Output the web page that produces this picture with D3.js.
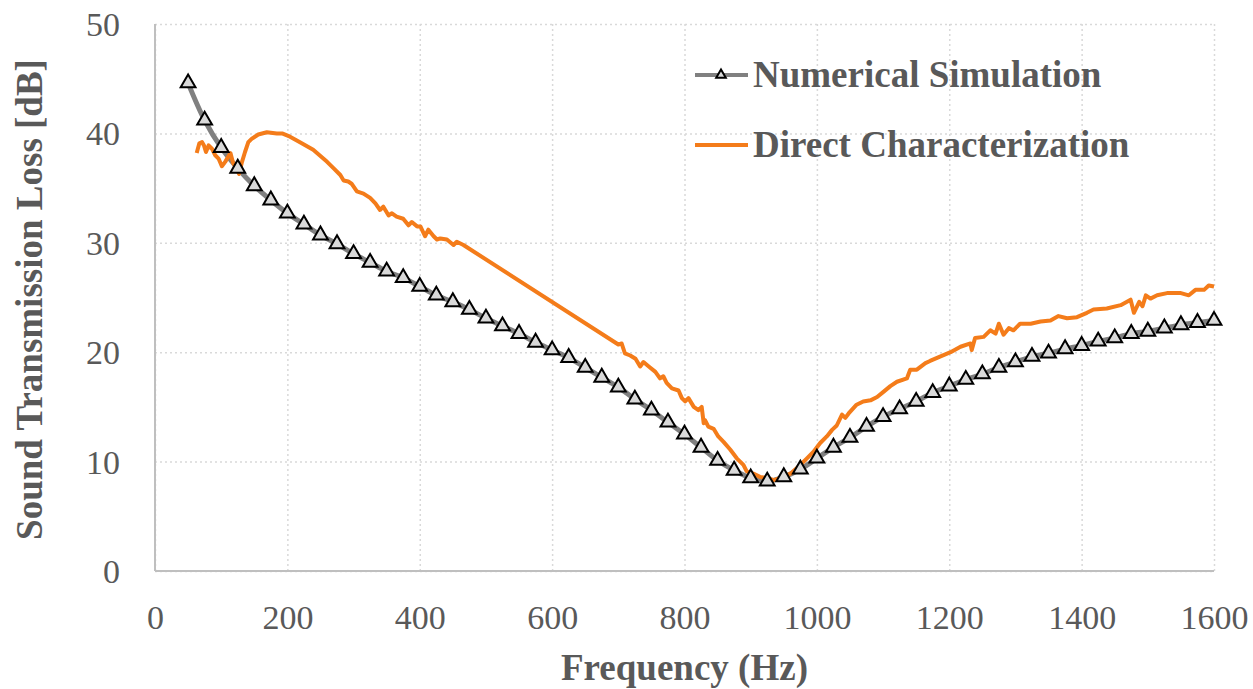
<!DOCTYPE html>
<html>
<head>
<meta charset="utf-8">
<script src="https://cdn.jsdelivr.net/npm/d3@7"></script>
<style>
  body { margin: 0; background: #fff; }
  svg text { font-family: "Liberation Serif", "Times New Roman", serif; fill: #595959; }
  .grid line { stroke: #d9d9d9; stroke-width: 1.5; stroke-dasharray: 2,3; }
  .axis-label { font-size: 34px; }
  .axis-title, .legend-label { font-size: 37px; font-weight: bold; }
</style>
</head>
<body>
<div id="chart"></div>
<script>
// x ticks and y ticks
const xTicks = [0, 200, 400, 600, 800, 1000, 1200, 1400, 1600];
const yTicks = [0, 10, 20, 30, 40, 50];

// Numerical Simulation, read every 25 Hz from 50 Hz
const simFreq = [50, 75, 100, 125, 150, 175, 200, 225, 250, 275, 300, 325, 350, 375, 400,
    425, 450, 475, 500, 525, 550, 575, 600, 625, 650, 675, 700, 725, 750, 775, 800,
    825, 850, 875, 900, 925, 950, 975, 1000, 1025, 1050, 1075, 1100, 1125, 1150, 1175, 1200,
    1225, 1250, 1275, 1300, 1325, 1350, 1375, 1400, 1425, 1450, 1475, 1500, 1525, 1550, 1575, 1600];
const simLoss = [44.6, 41.2, 38.7, 36.8, 35.2, 33.9, 32.7, 31.7, 30.7, 29.9, 29.0, 28.2, 27.4, 26.8, 26.0,
    25.2, 24.6, 23.9, 23.1, 22.4, 21.7, 20.9, 20.2, 19.5, 18.6, 17.7, 16.8, 15.7, 14.7, 13.6, 12.5,
    11.3, 10.1, 9.2, 8.5, 8.2, 8.6, 9.3, 10.3, 11.3, 12.2, 13.2, 14.1, 14.8, 15.5, 16.3, 16.9,
    17.5, 18.0, 18.6, 19.1, 19.6, 19.9, 20.3, 20.6, 21.0, 21.3, 21.7, 21.9, 22.2, 22.5, 22.7, 22.9];

// Direct Characterization (measured), frequency / loss pairs
const dirFreq = [63, 67, 71, 74, 77, 81, 86, 91, 96, 101, 106, 111, 114, 118, 123, 127, 131, 136, 141, 146,
    156, 169, 184, 192, 204, 219, 239, 260, 270, 280, 285, 292, 297, 305, 315, 325, 333, 340, 345, 353,
    358, 365, 375, 383, 388, 396, 401, 408, 413, 421, 426, 431, 441, 451, 456, 466,
    700, 705, 710, 718, 726, 733, 738, 746, 756, 763, 768, 773, 781, 791, 796, 801, 806, 814, 821, 826,
    829, 831, 836, 844, 851, 859, 869, 879, 889, 894, 904, 914, 925, 935, 945, 960, 975, 985, 995, 1005,
    1015, 1023, 1030, 1038, 1043, 1048, 1060, 1070, 1081, 1091, 1101, 1111, 1121, 1136, 1141, 1151, 1164, 1171,
    1186, 1202, 1217, 1232, 1234, 1239, 1252, 1262, 1270, 1275, 1282, 1290, 1297, 1307, 1323, 1338, 1353,
    1365, 1378, 1393, 1408, 1418, 1438, 1459, 1474, 1479, 1487, 1492, 1497, 1504, 1514, 1529, 1550, 1562,
    1572, 1585, 1592, 1600];
const dirLoss = [38.2, 39.1, 39.2, 38.9, 38.3, 38.9, 38.6, 38.0, 37.7, 37.0, 37.4, 37.9, 38.2, 37.3, 36.8, 36.3, 37.3, 38.3, 39.2, 39.5,
    39.9, 40.1, 40.0, 40.0, 39.7, 39.2, 38.5, 37.4, 36.8, 36.2, 35.7, 35.6, 35.4, 34.7, 34.5, 34.1, 33.6, 33.0, 33.3, 32.5,
    32.7, 32.4, 32.2, 31.6, 31.9, 31.5, 31.5, 30.6, 31.2, 30.6, 30.3, 30.4, 30.3, 29.8, 30.1, 29.8,
    20.7, 20.8, 19.9, 19.7, 19.4, 18.7, 19.1, 18.7, 18.2, 17.6, 17.8, 17.2, 16.7, 16.5, 15.8, 15.5, 15.8, 15.0, 14.7, 15.0,
    13.5, 13.8, 13.2, 13.0, 12.3, 11.8, 11.1, 10.3, 9.7, 9.1, 8.9, 8.6, 8.5, 8.3, 8.5, 8.9, 9.7, 10.3, 10.9, 11.7,
    12.3, 12.9, 13.3, 14.3, 14.0, 14.4, 15.2, 15.5, 15.6, 15.9, 16.4, 16.9, 17.3, 17.6, 18.4, 18.4, 19.0, 19.2,
    19.6, 20.0, 20.5, 20.8, 20.2, 21.3, 21.4, 22.0, 21.7, 22.6, 21.6, 22.2, 22.0, 22.6, 22.6, 22.8, 22.9,
    23.3, 23.1, 23.2, 23.6, 23.9, 24.0, 24.3, 24.8, 23.6, 24.6, 24.2, 25.2, 24.9, 25.2, 25.4, 25.4, 25.2,
    25.7, 25.7, 26.1, 26.0];

const seriesNames = ['Numerical Simulation', 'Direct Characterization'];

const config = {
    width: 1253,
    height: 689,
    margin: {top: 24, right: 39, bottom: 118, left: 155},
    grey: '#808080',
    orange: '#f47c1a',
    markerFill: '#d9d9d9'
};

const svg = d3.select('#chart').append('svg')
    .attr('width', config.width)
    .attr('height', config.height);

const innerW = config.width - config.margin.left - config.margin.right;
const innerH = config.height - config.margin.top - config.margin.bottom;

const g = svg.append('g')
    .attr('transform', `translate(${config.margin.left},${config.margin.top})`);

const xScale = d3.scaleLinear().domain([0, 1600]).range([0, innerW]);
const yScale = d3.scaleLinear().domain([0, 50]).range([innerH, 0]);

// dotted gridlines
g.append('g')
    .attr('class', 'grid')
    .attr('transform', `translate(0,${innerH})`)
    .call(d3.axisBottom(xScale).tickValues(xTicks).tickSize(-innerH).tickFormat(''))
    .call(g => g.select('.domain').remove());

g.append('g')
    .attr('class', 'grid')
    .call(d3.axisLeft(yScale).tickValues(yTicks).tickSize(-innerW).tickFormat(''))
    .call(g => g.select('.domain').remove());

// axis lines
g.append('line')
    .attr('x1', 0).attr('x2', 0).attr('y1', 0).attr('y2', innerH)
    .attr('stroke', '#bfbfbf').attr('stroke-width', 2);
g.append('line')
    .attr('x1', 0).attr('x2', innerW).attr('y1', innerH).attr('y2', innerH)
    .attr('stroke', '#bfbfbf').attr('stroke-width', 2);

// tick labels
const xAxisG = g.append('g')
    .attr('transform', `translate(0,${innerH})`)
    .call(d3.axisBottom(xScale).tickValues(xTicks).tickSize(0).tickPadding(34).tickFormat(d3.format('d')));
xAxisG.select('.domain').remove();
xAxisG.selectAll('text').attr('class', 'axis-label').attr('font-family', null).attr('font-size', null);

const yAxisG = g.append('g')
    .call(d3.axisLeft(yScale).tickValues(yTicks).tickSize(0).tickPadding(35).tickFormat(d3.format('d')));
yAxisG.select('.domain').remove();
yAxisG.selectAll('text').attr('class', 'axis-label').attr('font-family', null).attr('font-size', null)
    .attr('dy', '0.34em');

// axis titles
svg.append('text')
    .attr('class', 'axis-title')
    .attr('text-anchor', 'middle')
    .attr('x', config.margin.left + innerW / 2)
    .attr('y', 680)
    .text('Frequency (Hz)');

svg.append('text')
    .attr('class', 'axis-title')
    .attr('text-anchor', 'middle')
    .attr('transform', `translate(42,${config.margin.top + innerH / 2 + 2}) rotate(-90)`)
    .text('Sound Transmission Loss [dB]');

// series
const simData = simFreq.map((f, i) => ({f: f, v: simLoss[i]}));
const dirData = dirFreq.map((f, i) => ({f: f, v: dirLoss[i]}));

const smoothLine = d3.line()
    .x(d => xScale(d.f))
    .y(d => yScale(d.v))
    .curve(d3.curveCatmullRom);

const rawLine = d3.line()
    .x(d => xScale(d.f))
    .y(d => yScale(d.v));

g.append('path')
    .datum(simData)
    .attr('fill', 'none')
    .attr('stroke', config.grey)
    .attr('stroke-width', 5)
    .attr('d', smoothLine);

g.append('path')
    .datum(dirData)
    .attr('fill', 'none')
    .attr('stroke', config.orange)
    .attr('stroke-width', 4)
    .attr('stroke-linejoin', 'round')
    .attr('d', rawLine);

const triangle = d3.symbol().type(d3.symbolTriangle);

g.selectAll('.marker')
    .data(simData)
    .join('path')
    .attr('class', 'marker')
    .attr('transform', d => `translate(${xScale(d.f)},${yScale(d.v)})`)
    .attr('d', triangle.size(95)())
    .attr('fill', config.markerFill)
    .attr('stroke', '#000')
    .attr('stroke-width', 2);

// legend
const legend = svg.append('g').attr('transform', 'translate(695,75)');
const legendRows = [
    {name: seriesNames[0], color: config.grey, marker: true},
    {name: seriesNames[1], color: config.orange, marker: false}
];
const legendRow = legend.selectAll('.legend-row')
    .data(legendRows)
    .join('g')
    .attr('class', 'legend-row')
    .attr('transform', (d, i) => `translate(0,${i * 70})`);

legendRow.append('line')
    .attr('x1', 0).attr('x2', 53)
    .attr('stroke', d => d.color)
    .attr('stroke-width', 4);

legendRow.filter(d => d.marker)
    .append('path')
    .attr('transform', 'translate(26,0)')
    .attr('d', triangle.size(40)())
    .attr('fill', config.markerFill)
    .attr('stroke', '#000')
    .attr('stroke-width', 2);

legendRow.append('text')
    .attr('class', 'legend-label')
    .attr('x', 58)
    .attr('y', 12)
    .text(d => d.name);
</script>
</body>
</html>
